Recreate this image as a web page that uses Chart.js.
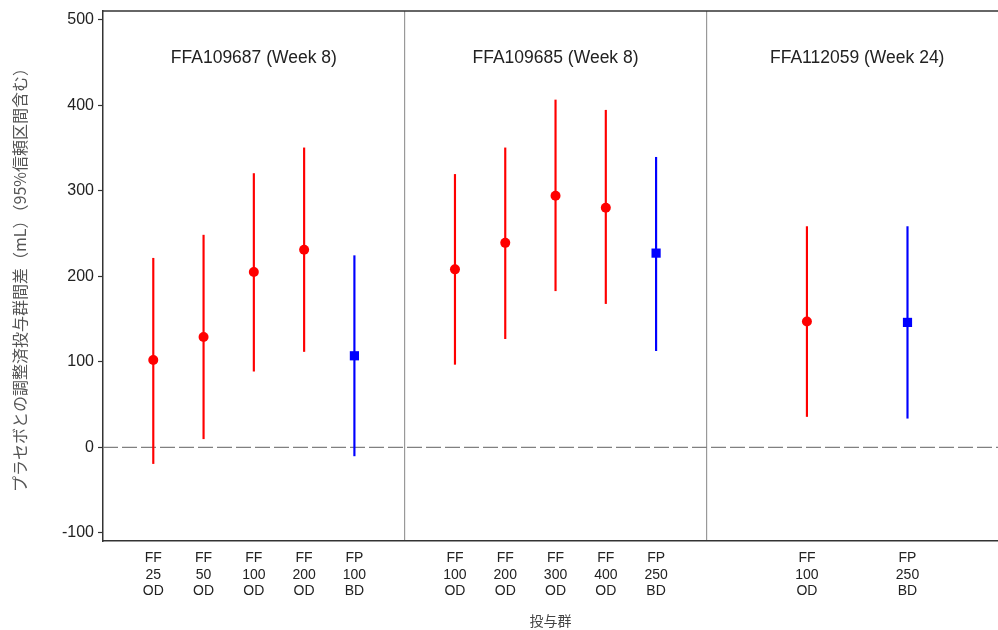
<!DOCTYPE html>
<html>
<head>
<meta charset="utf-8">
<script src="https://cdn.jsdelivr.net/npm/chart.js@4"></script>
<style>
  html, body { margin: 0; padding: 0; background: #fff; overflow: hidden; }
  #wrap { width: 998px; height: 630px; position: relative; }
  canvas { display: block; }
</style>
</head>
<body>
<div id="wrap"><canvas id="c"></canvas></div>
<script>
// ---- data ----
const categories = [
  ["FF","25","OD"], ["FF","50","OD"], ["FF","100","OD"], ["FF","200","OD"], ["FP","100","BD"],
  ["FF","100","OD"], ["FF","200","OD"], ["FF","300","OD"], ["FF","400","OD"], ["FP","250","BD"],
  ["FF","100","OD"], ["FP","250","BD"]
];
const xPositions = [1, 2, 3, 4, 5, 7, 8, 9, 10, 11, 14, 16];
const drugs      = ["FF","FF","FF","FF","FP","FF","FF","FF","FF","FP","FF","FP"];
const estimates  = [102, 129, 205, 231, 107, 208, 239, 294, 280, 227, 147, 146];
const lowerCI    = [-19, 10, 89, 112, -10, 97, 127, 183, 168, 113, 36, 34];
const upperCI    = [221, 248, 320, 350, 224, 319, 350, 406, 394, 339, 258, 258];
const panelTitles  = ["FFA109687 (Week 8)", "FFA109685 (Week 8)", "FFA112059 (Week 24)"];
const panelCenters = [3, 9, 15];
const panelDividers = [6, 12];
const yTicks = [-100, 0, 100, 200, 300, 400, 500];
const yTitle = "プラセボとの調整済投与群間差（mL）（95%信頼区間含む）";
const xTitle = "投与群";

// ---- build ----
const RED = "#FF0000", BLUE = "#0000FF";
const colorOf = d => d === "FF" ? RED : BLUE;

const ffPts = [], fpPts = [];
xPositions.forEach((x, i) => {
  (drugs[i] === "FF" ? ffPts : fpPts).push({ x: x, y: estimates[i] });
});
const intervals = xPositions.map((x, i) => ({ x: x, y: [lowerCI[i], upperCI[i]] }));

const labelMap = {};
xPositions.forEach((x, i) => labelMap[x] = categories[i]);

const CJK = "'Noto Sans CJK JP', sans-serif";
Chart.defaults.font.family = "'Liberation Sans', Arial, sans-serif";
Chart.defaults.color = "#222";

const decorPlugin = {
  id: "decor",
  afterDraw(chart) {
    const { ctx, chartArea, scales } = chart;
    ctx.save();
    ctx.strokeStyle = "#333";
    ctx.lineWidth = 1.5;
    ctx.beginPath();
    ctx.moveTo(chartArea.left, chartArea.top);
    ctx.lineTo(chartArea.right, chartArea.top);
    ctx.stroke();
    ctx.fillStyle = "#222";
    ctx.font = "17.5px 'Liberation Sans', Arial, sans-serif";
    ctx.textAlign = "center";
    ctx.textBaseline = "middle";
    panelTitles.forEach((t, i) => {
      ctx.fillText(t, scales.x.getPixelForValue(panelCenters[i]), scales.y.getPixelForValue(455));
    });
    ctx.restore();
  }
};

new Chart(document.getElementById("c"), {
  type: "scatter",
  data: {
    datasets: [
      {
        type: "bar",
        data: intervals,
        backgroundColor: drugs.map(colorOf),
        borderWidth: 0,
        barThickness: 1.5,
        grouped: false,
        order: 2
      },
      {
        type: "scatter",
        data: ffPts,
        pointStyle: "circle",
        pointRadius: 5,
        backgroundColor: RED,
        borderColor: RED,
        borderWidth: 0,
        order: 0
      },
      {
        type: "scatter",
        data: fpPts,
        pointStyle: "rect",
        pointRadius: 6.5,
        backgroundColor: BLUE,
        borderColor: BLUE,
        borderWidth: 0,
        order: 0
      },
      {
        type: "line",
        data: [{ x: 0, y: 0 }, { x: 18, y: 0 }],
        borderColor: "#808080",
        borderWidth: 1.3,
        borderDash: [15, 4],
        pointRadius: 0,
        order: 3
      }
    ]
  },
  options: {
    responsive: true,
    maintainAspectRatio: false,
    animation: false,
    layout: { autoPadding: false, padding: { left: 11, top: 11, right: 0, bottom: 0 } },
    plugins: { legend: { display: false }, tooltip: { enabled: false } },
    scales: {
      x: {
        type: "linear",
        min: 0,
        max: 17.8,
        offset: false,
        afterBuildTicks: s => {
          s.ticks = xPositions.concat(panelDividers).sort((a, b) => a - b).map(v => ({ value: v }));
        },
        afterFit: s => { s.height = 630 - 541; s.paddingLeft = 0; s.paddingRight = 0; },
        ticks: {
          autoSkip: false,
          maxRotation: 0,
          padding: 9,
          font: { size: 14, lineHeight: 1.18 },
          color: "#222",
          callback: v => labelMap[v] || ""
        },
        grid: {
          offset: false,
          drawTicks: false,
          lineWidth: 1.2,
          color: c => (c.tick && panelDividers.includes(c.tick.value)) ? "#999" : "rgba(0,0,0,0)"
        },
        border: { display: true, color: "#333", width: 1.5 },
        title: {
          display: true,
          text: xTitle,
          color: "#444",
          font: { family: CJK, size: 14, lineHeight: 1.2 },
          padding: { top: 0, bottom: 1 }
        }
      },
      y: {
        min: -109.5,
        max: 510,
        afterBuildTicks: s => { s.ticks = yTicks.map(v => ({ value: v })); },
        afterFit: s => { s.width = 103 - 11; s.paddingTop = 0; s.paddingBottom = 0; },
        ticks: {
          padding: 4,
          font: { size: 16 },
          color: "#222"
        },
        grid: {
          drawOnChartArea: false,
          drawTicks: true,
          tickLength: 5,
          tickColor: "#333",
          tickWidth: 1.2
        },
        border: { display: true, color: "#333", width: 1.5 },
        title: {
          display: true,
          text: yTitle,
          color: "#555",
          font: { family: CJK, size: 16, lineHeight: 1.15 },
          padding: { top: 0, bottom: 0 }
        }
      }
    }
  },
  plugins: [decorPlugin]
});
</script>
</body>
</html>
